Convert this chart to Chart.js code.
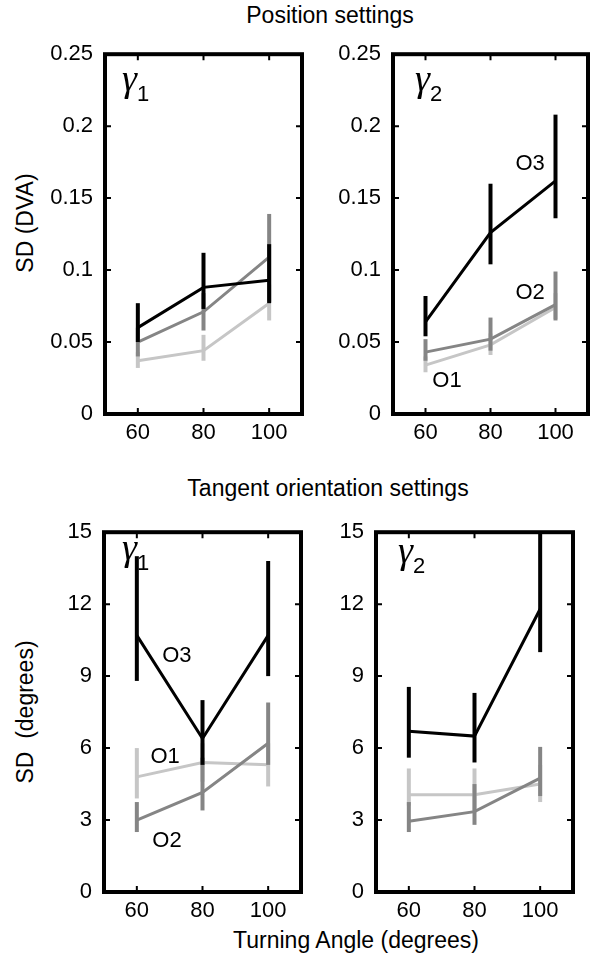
<!DOCTYPE html>
<html>
<head>
<meta charset="utf-8">
<script src="https://cdn.jsdelivr.net/npm/chart.js@4.4.0/dist/chart.umd.min.js"></script>
<style>
  body { margin: 0; background: #fff; }
  #wrap { position: relative; width: 596px; height: 957px; overflow: hidden; font-family: "Liberation Sans", Arial, sans-serif; color: #000; }
  canvas { position: absolute; }
  .txt { position: absolute; font-size: 23px; line-height: 24px; text-align: center; white-space: pre; }
  .rot { transform: rotate(-90deg); }
</style>
</head>
<body>
<div id="wrap">
  <div class="txt" style="left:230px; top:3px; width:200px;">Position settings</div>
  <div class="txt" style="left:128px; top:476px; width:400px;">Tangent orientation settings</div>
  <div class="txt" style="left:206px; top:928px; width:300px;">Turning Angle (degrees)</div>
  <div class="txt rot" style="left:-75px; top:211px; width:200px;">SD (DVA)</div>
  <div class="txt rot" style="left:-75px; top:700px; width:200px;">SD  (degrees)</div>
  <canvas id="c1"></canvas>
  <canvas id="c2"></canvas>
  <canvas id="c3"></canvas>
  <canvas id="c4"></canvas>
</div>
<script>
// turning angles (x categories)
const angles = [60, 80, 100];
const angleLabels = ['60', '80', '100'];

// y ticks
const posTicks = [0, 0.05, 0.1, 0.15, 0.2, 0.25];
const posTickLabels = ['0', '0.05', '0.1', '0.15', '0.2', '0.25'];
const oriTicks = [0, 3, 6, 9, 12, 15];
const oriTickLabels = ['0', '3', '6', '9', '12', '15'];

// Position settings, gamma 1  (mean, lower, upper)
const posG1_O1 = [0.037, 0.044, 0.077];
const posG1_O1lo = [0.032, 0.037, 0.065];
const posG1_O1hi = [0.043, 0.055, 0.090];
const posG1_O2 = [0.050, 0.071, 0.109];
const posG1_O2lo = [0.040, 0.058, 0.078];
const posG1_O2hi = [0.060, 0.084, 0.139];
const posG1_O3 = [0.060, 0.088, 0.093];
const posG1_O3lo = [0.050, 0.073, 0.077];
const posG1_O3hi = [0.077, 0.112, 0.118];

// Position settings, gamma 2
const posG2_O1 = [0.034, 0.048, 0.074];
const posG2_O1lo = [0.029, 0.041, 0.066];
const posG2_O1hi = [0.040, 0.056, 0.084];
const posG2_O2 = [0.043, 0.052, 0.076];
const posG2_O2lo = [0.037, 0.044, 0.065];
const posG2_O2hi = [0.052, 0.067, 0.099];
const posG2_O3 = [0.064, 0.126, 0.162];
const posG2_O3lo = [0.054, 0.104, 0.136];
const posG2_O3hi = [0.082, 0.160, 0.208];

// Tangent orientation settings, gamma 1
const oriG1_O1 = [4.8, 5.4, 5.3];
const oriG1_O1lo = [3.9, 4.6, 4.4];
const oriG1_O1hi = [6.0, 6.2, 6.2];
const oriG1_O2 = [3.0, 4.15, 6.2];
const oriG1_O2lo = [2.5, 3.4, 5.3];
const oriG1_O2hi = [3.75, 5.6, 7.9];
const oriG1_O3 = [10.7, 6.4, 10.7];
const oriG1_O3lo = [8.8, 5.3, 9.0];
const oriG1_O3hi = [14.0, 8.0, 13.8];

// Tangent orientation settings, gamma 2
const oriG2_O1 = [4.05, 4.05, 4.5];
const oriG2_O1lo = [3.6, 3.4, 3.75];
const oriG2_O1hi = [5.15, 5.15, 5.3];
const oriG2_O2 = [2.95, 3.35, 4.75];
const oriG2_O2lo = [2.5, 2.8, 4.0];
const oriG2_O2hi = [3.75, 4.5, 6.05];
const oriG2_O3 = [6.7, 6.5, 11.8];
const oriG2_O3lo = [5.6, 5.4, 10.0];
const oriG2_O3hi = [8.55, 8.3, 15.0];

const COL = { O1: '#c6c6c6', O2: '#858585', O3: '#000000' };
const ORDER = { O1: 2, O2: 1, O3: 0 };
const SANS = '"Liberation Sans", Arial, sans-serif';

const framePlugin = {
  id: 'frame',
  afterDatasetsDraw(chart, args, opts) {
    const { ctx, chartArea: a, scales: { x, y } } = chart;
    ctx.save();
    ctx.strokeStyle = '#000';
    ctx.lineWidth = 2;
    ctx.beginPath();
    x.ticks.forEach(t => {
      const px = x.getPixelForValue(t.value);
      ctx.moveTo(px, a.bottom); ctx.lineTo(px, a.bottom - 6);
      ctx.moveTo(px, a.top); ctx.lineTo(px, a.top + 6);
    });
    y.ticks.forEach(t => {
      const py = y.getPixelForValue(t.value);
      ctx.moveTo(a.left, py); ctx.lineTo(a.left + 6, py);
      ctx.moveTo(a.right, py); ctx.lineTo(a.right - 6, py);
    });
    ctx.stroke();
    ctx.lineWidth = 4;
    ctx.strokeRect(a.left, a.top, a.right - a.left, a.bottom - a.top);

    // gamma label
    ctx.fillStyle = '#000';
    ctx.textBaseline = 'alphabetic';
    ctx.textAlign = 'left';
    ctx.font = 'italic 38px "Liberation Serif", "Times New Roman", serif';
    const gx = a.left + opts.gx, gy = a.top + opts.gy + 17;
    ctx.fillText('\u03B3', gx, gy);
    const w = ctx.measureText('\u03B3').width;
    ctx.font = '22px ' + SANS;
    ctx.fillText(opts.sub, gx + w, gy + 10);

    // series labels
    ctx.textAlign = 'center';
    ctx.textBaseline = 'middle';
    (opts.labels || []).forEach(l => {
      ctx.fillText(l.text, x.getPixelForValue(l.x), y.getPixelForValue(l.y));
    });
    ctx.restore();
  }
};

function lineSet(name, vals) {
  return {
    data: angles.map((a, i) => ({ x: a, y: vals[i] })),
    borderColor: COL[name], borderWidth: 3, showLine: true,
    pointRadius: 0, order: ORDER[name], clip: false
  };
}

function barSets(name, lo, hi) {
  return angles.map((a, i) => ({
    data: [{ x: a, y: lo[i] }, { x: a, y: hi[i] }],
    borderColor: COL[name], borderWidth: 4, showLine: true, borderCapStyle: 'butt',
    pointRadius: 0, order: ORDER[name], clip: false
  }));
}

function makePanel(id, box, yTicks, yLabels, series, frameOpts) {
  const padL = 62, padT = 16, padR = 12, xH = 40;
  const cv = document.getElementById(id);
  cv.width = box.r - box.l + padL + padR;
  cv.height = box.b - box.t + padT + xH;
  cv.style.left = (box.l - padL) + 'px';
  cv.style.top = (box.t - padT) + 'px';

  const datasets = [];
  series.forEach(s => {
    datasets.push(lineSet(s.name, s.mean));
    barSets(s.name, s.lo, s.hi).forEach(d => datasets.push(d));
  });

  const font = { family: SANS, size: 22 };
  return new Chart(cv, {
    type: 'scatter',
    data: { datasets },
    options: {
      responsive: false,
      animation: false,
      layout: { padding: { top: padT, right: padR, left: 0, bottom: 0 } },
      plugins: { legend: { display: false }, tooltip: { enabled: false }, frame: frameOpts },
      scales: {
        x: {
          type: 'linear', min: 50, max: 110,
          grid: { display: false, drawTicks: false }, border: { display: false },
          afterBuildTicks: sc => { sc.ticks = angles.map(v => ({ value: v })); },
          afterFit: sc => { sc.height = xH; },
          ticks: { color: '#000', font, padding: 6, maxRotation: 0,
                   callback: (v, i) => angleLabels[i] }
        },
        y: {
          type: 'linear', min: yTicks[0], max: yTicks[yTicks.length - 1],
          grid: { display: false, drawTicks: false }, border: { display: false },
          afterBuildTicks: sc => { sc.ticks = yTicks.map(v => ({ value: v })); },
          afterFit: sc => { sc.width = padL; },
          ticks: { color: '#000', font, padding: 12,
                   callback: (v, i) => yLabels[i] }
        }
      }
    },
    plugins: [framePlugin]
  });
}

makePanel('c1', { l: 105, r: 302, t: 45, b: 414 }, posTicks, posTickLabels, [
  { name: 'O1', mean: posG1_O1, lo: posG1_O1lo, hi: posG1_O1hi },
  { name: 'O2', mean: posG1_O2, lo: posG1_O2lo, hi: posG1_O2hi },
  { name: 'O3', mean: posG1_O3, lo: posG1_O3lo, hi: posG1_O3hi }
], { sub: '1', gx: 17, gy: 20, labels: [] });

makePanel('c2', { l: 393, r: 588, t: 45, b: 414 }, posTicks, posTickLabels, [
  { name: 'O1', mean: posG2_O1, lo: posG2_O1lo, hi: posG2_O1hi },
  { name: 'O2', mean: posG2_O2, lo: posG2_O2lo, hi: posG2_O2hi },
  { name: 'O3', mean: posG2_O3, lo: posG2_O3lo, hi: posG2_O3hi }
], { sub: '2', gx: 22, gy: 20, labels: [
  { text: 'O3', x: 92.2, y: 0.174 },
  { text: 'O2', x: 92.2, y: 0.084 },
  { text: 'O1', x: 66.6, y: 0.023 }
] });

makePanel('c3', { l: 104, r: 301, t: 523, b: 892 }, oriTicks, oriTickLabels, [
  { name: 'O1', mean: oriG1_O1, lo: oriG1_O1lo, hi: oriG1_O1hi },
  { name: 'O2', mean: oriG1_O2, lo: oriG1_O2lo, hi: oriG1_O2hi },
  { name: 'O3', mean: oriG1_O3, lo: oriG1_O3lo, hi: oriG1_O3hi }
], { sub: '1', gx: 18, gy: 11, labels: [
  { text: 'O3', x: 72.2, y: 9.84 },
  { text: 'O1', x: 68.6, y: 5.65 },
  { text: 'O2', x: 69.2, y: 2.11 }
] });

makePanel('c4', { l: 376, r: 573, t: 523, b: 892 }, oriTicks, oriTickLabels, [
  { name: 'O1', mean: oriG2_O1, lo: oriG2_O1lo, hi: oriG2_O1hi },
  { name: 'O2', mean: oriG2_O2, lo: oriG2_O2lo, hi: oriG2_O2hi },
  { name: 'O3', mean: oriG2_O3, lo: oriG2_O3lo, hi: oriG2_O3hi }
], { sub: '2', gx: 22, gy: 14, labels: [] });
</script>
</body>
</html>
